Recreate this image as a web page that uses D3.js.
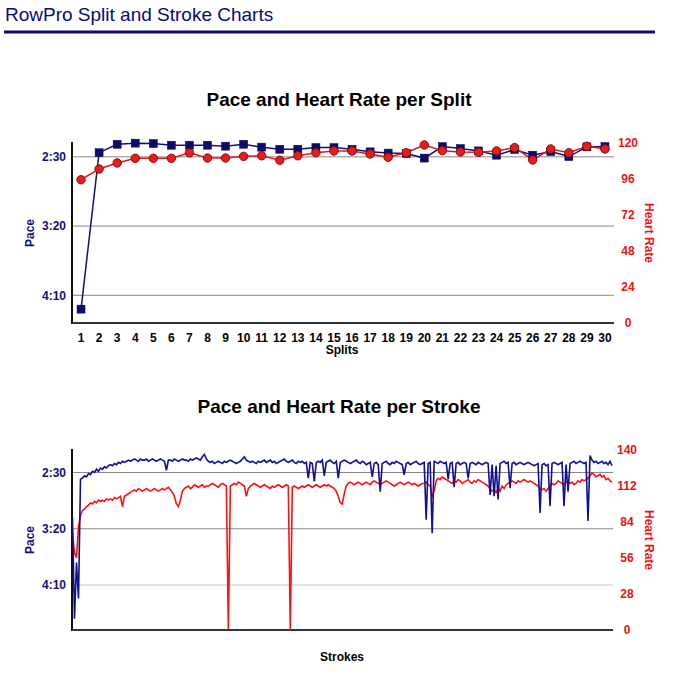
<!DOCTYPE html>
<html>
<head>
<meta charset="utf-8">
<script src="https://cdn.jsdelivr.net/npm/d3@7"></script>
<style>
  body { margin: 0; background: #fff; }
  svg { display: block; font-family: Helvetica, Arial, "Liberation Sans", sans-serif; }
</style>
</head>
<body>
<div id="chart"></div>
<script>
// split data (pace in seconds per 500m, heart rate in bpm)
var splits = d3.range(1, 31);
var splitPace = [260, 147, 140.9, 140.1, 140.4, 141.6, 141.6, 141.6, 142.3, 140.9,
    143, 144.5, 144.5, 143.3, 143.3, 144.5, 146.4, 147.3, 147.6, 150.9,
    142.6, 144, 145.7, 148.8, 144.7, 148.8, 146.2, 149.8, 142.8, 142.6];
var splitHR = [95.5, 102.7, 106.7, 109.8, 109.8, 109.8, 113.5, 110, 110, 111.1,
    111.5, 108.5, 111.5, 113.5, 114.7, 114.7, 112.7, 110.5, 113.5, 118.7,
    114.9, 114, 113.8, 114.7, 116.9, 108.7, 116, 113.5, 117.8, 116];

// stroke data
var strokePace = [190,280,230,262,156,155,153,154,151,152,149,150,147,149,146,147,145,146,144,143,144,142,143,141,142,140,141,140,139,140,
    139,138,139,140,138,139,139,138,140,139,138,139,140,139,138,139,
    140,148,139,
    139,140,138,139,140,139,138,139,139,140,138,139,138,137,138,139,
    136,134,138,
    140,141,140,142,141,140,141,142,140,141,140,139,140,141,142,141,140,138,136,139,140,141,140,141,142,140,141,
    140,139,141,140,139,141,140,142,141,140,139,138,140,141,140,139,141,142,140,141,140,142,141,
    155,141,142,158,141,140,141,139,153,141,
    140,139,141,142,140,155,
    141,140,139,140,141,142,141,140,139,141,142,140,141,143,142,141,
    154,142,141,143,167,142,
    141,140,142,143,141,142,140,141,142,143,
    152,
    142,141,143,142,141,140,142,143,142,141,
    192,142,141,204,140,
    141,142,140,141,142,141,
    156,142,141,163,
    142,141,143,142,141,142,
    155,
    142,141,142,143,141,142,143,142,141,142,
    170,143,171,144,174,
    142,141,140,142,141,
    164,
    142,141,143,142,141,142,143,142,141,142,143,144,143,142,
    186,143,142,144,143,
    180,
    142,141,142,143,142,141,
    180,143,167,
    142,141,140,142,141,140,141,142,141,
    193,135,
    139,141,140,142,141,140,142,141,143,140,144];
var strokeHR = [75,60,56,80,89,93,94,96,97,99,98,100,99,101,100,101,100,102,101,102,101,103,102,103,104,96,104,105,106,107,
    108,109,108,110,109,108,109,110,109,108,109,110,109,108,109,
    110,109,110,111,109,
    107,104,98,96,101,108,110,
    111,112,110,111,113,112,111,112,113,111,112,
    112,113,114,113,112,111,113,114,113,112,
    0,
    112,
    113,114,113,115,114,113,112,
    104,110,
    112,113,114,113,112,111,112,113,112,111,110,112,111,112,113,112,111,112,113,
    112,
    0,
    111,
    112,111,110,111,112,111,112,113,112,111,112,113,112,111,
    112,113,112,113,112,111,110,108,104,
    99,98,106,112,
    114,115,114,113,114,115,114,113,114,115,114,113,
    115,116,115,114,113,114,115,116,115,114,113,112,113,114,115,114,113,114,115,114,113,114,113,112,113,114,
    114,115,113,112,
    104,108,
    116,118,117,119,118,117,
    116,115,114,116,115,117,116,114,115,116,117,115,114,116,115,117,116,115,114,113,112,110,108,
    109,107,110,108,112,110,113,114,
    115,116,115,114,116,115,116,117,116,115,116,115,114,113,112,
    110,109,110,108,110,
    112,114,113,114,116,115,114,113,115,116,114,115,113,114,116,115,117,116,
    117,
    118,120,122,121,119,120,121,
    119,120,117,118,116,115];

var paceTicks = [150, 200, 250];
var splitHRTicks = [0, 24, 48, 72, 96, 120];
var strokeHRTicks = [0, 28, 56, 84, 112, 140];

var navy = "#10107a", red = "#ee1111";
var font = "Helvetica, Arial, 'Liberation Sans', sans-serif";

function fmtPace(s) {
    var m = Math.floor(s / 60), r = Math.round(s - m * 60);
    return m + ":" + (r < 10 ? "0" : "") + r;
}

var svg = d3.select("#chart").append("svg")
    .attr("width", 679)
    .attr("height", 679);

// page header
svg.append("text")
    .attr("x", 5).attr("y", 21)
    .attr("fill", "#0a0a78")
    .style("font-size", "19px")
    .text("RowPro Split and Stroke Charts");
svg.append("line")
    .attr("x1", 4).attr("x2", 655)
    .attr("y1", 32).attr("y2", 32)
    .attr("stroke", "#0a0a78")
    .attr("stroke-width", 3);

function frame(g, o) {
    // title
    g.append("text")
        .attr("x", 339).attr("y", o.top - 37)
        .attr("text-anchor", "middle")
        .style("font-size", "19px").style("font-weight", "bold")
        .text(o.title);

    // gridlines at pace ticks
    g.selectAll(".grid").data(paceTicks).enter().append("line")
        .attr("x1", o.left).attr("x2", o.right)
        .attr("y1", d => o.yPace(d)).attr("y2", d => o.yPace(d))
        .attr("stroke", (d, i) => o.gridColors[i]).attr("stroke-width", 1);

    // left axis labels
    var la = g.append("g")
        .attr("transform", `translate(${o.left},0)`)
        .call(d3.axisLeft(o.yPace).tickValues(paceTicks).tickFormat(fmtPace).tickSize(0).tickPadding(6));
    la.select(".domain").remove();
    la.selectAll("text").attr("fill", navy)
        .style("font-size", "12px").style("font-weight", "bold")
        .style("font-family", font);

    // right axis labels
    var ra = g.append("g")
        .attr("transform", `translate(${o.right},0)`)
        .call(d3.axisRight(o.yHR).tickValues(o.hrTicks).tickSize(0).tickPadding(14));
    ra.select(".domain").remove();
    ra.selectAll("text").attr("fill", red)
        .attr("text-anchor", "middle")
        .style("font-size", "12px").style("font-weight", "bold")
        .style("font-family", font);

    // axis lines
    g.append("line")
        .attr("x1", o.left).attr("x2", o.left)
        .attr("y1", o.top - 1).attr("y2", o.bottom + 1)
        .attr("stroke", "#111").attr("stroke-width", 2);
    g.append("line")
        .attr("x1", o.left).attr("x2", o.right)
        .attr("y1", o.bottom).attr("y2", o.bottom)
        .attr("stroke", "#333").attr("stroke-width", 2);

    // axis titles
    var ym = (o.top + o.bottom) / 2;
    g.append("text")
        .attr("transform", `translate(34,${ym}) rotate(-90)`)
        .attr("text-anchor", "middle")
        .attr("fill", navy)
        .style("font-size", "12px").style("font-weight", "bold")
        .text("Pace");
    g.append("text")
        .attr("transform", `translate(645,${ym}) rotate(90)`)
        .attr("text-anchor", "middle")
        .attr("fill", red)
        .style("font-size", "12px").style("font-weight", "bold")
        .text("Heart Rate");
}

// ---- split chart
(function () {
    var o = { top: 143, bottom: 323, left: 72, right: 614, title: "Pace and Heart Rate per Split",
        hrTicks: splitHRTicks, gridColors: ["#888", "#888", "#888"] };
    o.yPace = d3.scaleLinear().domain([140, 270]).range([o.top, o.bottom]);
    o.yHR = d3.scaleLinear().domain([0, 120]).range([o.bottom, o.top]);
    var x = d3.scaleBand().domain(splits).range([o.left, o.right]);
    var cx = d => x(d) + x.bandwidth() / 2;

    var g = svg.append("g");
    frame(g, o);

    var xa = g.append("g")
        .attr("transform", `translate(0,${o.bottom})`)
        .call(d3.axisBottom(x).tickSize(0).tickPadding(10));
    xa.select(".domain").remove();
    xa.selectAll("text").attr("fill", "#000")
        .style("font-size", "12px").style("font-weight", "bold")
        .style("font-family", font);
    g.append("text")
        .attr("x", 342).attr("y", o.bottom + 31)
        .attr("text-anchor", "middle")
        .style("font-size", "12px").style("font-weight", "bold")
        .text("Splits");

    var hrLine = d3.line().x((d, i) => cx(splits[i])).y(d => o.yHR(d));
    var paceLine = d3.line().x((d, i) => cx(splits[i])).y(d => o.yPace(d));

    g.append("path").attr("d", paceLine(splitPace))
        .attr("fill", "none").attr("stroke", navy).attr("stroke-width", 1.5);
    g.append("path").attr("d", hrLine(splitHR))
        .attr("fill", "none").attr("stroke", "#e01818").attr("stroke-width", 1.5);

    g.selectAll(".sq").data(splitPace).enter().append("rect")
        .attr("x", (d, i) => cx(splits[i]) - 4)
        .attr("y", d => o.yPace(d) - 4)
        .attr("width", 8).attr("height", 8)
        .attr("fill", "#0b0b6e").attr("stroke", "#0b0b50").attr("stroke-width", 0.5);
    g.selectAll(".ci").data(splitHR).enter().append("circle")
        .attr("cx", (d, i) => cx(splits[i]))
        .attr("cy", d => o.yHR(d))
        .attr("r", 4.2)
        .attr("fill", "#e81c1c").attr("stroke", "#8a0c0c").attr("stroke-width", 1);
})();

// ---- stroke chart
(function () {
    var o = { top: 450, bottom: 630, left: 72, right: 613, title: "Pace and Heart Rate per Stroke",
        hrTicks: strokeHRTicks, gridColors: ["#888", "#888", "#c4c4c4"] };
    o.yPace = d3.scaleLinear().domain([130, 290]).range([o.top, o.bottom]);
    o.yHR = d3.scaleLinear().domain([0, 140]).range([o.bottom, o.top]);
    var n = Math.max(strokePace.length, strokeHR.length);
    var x = d3.scaleLinear().domain([0, n - 1]).range([o.left + 0.5, o.right - 1]);

    var g = svg.append("g");
    frame(g, o);

    g.append("text")
        .attr("x", 342).attr("y", o.bottom + 31)
        .attr("text-anchor", "middle")
        .style("font-size", "12px").style("font-weight", "bold")
        .text("Strokes");

    g.append("path")
        .attr("d", d3.line().x((d, i) => x(i)).y(d => o.yHR(d))(strokeHR))
        .attr("fill", "none").attr("stroke", "#ff1010").attr("stroke-width", 1.6);
    g.append("path")
        .attr("d", d3.line().x((d, i) => x(i)).y(d => o.yPace(d))(strokePace))
        .attr("fill", "none").attr("stroke", "#101090").attr("stroke-width", 1.6);
})();
</script>
</body>
</html>
